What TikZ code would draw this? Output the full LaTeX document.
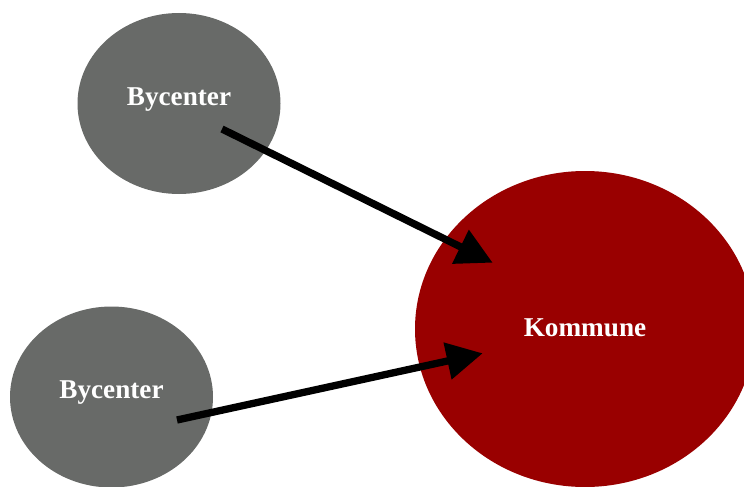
\documentclass[tikz,border=0pt]{standalone}
\usepackage{fontspec}
\setmainfont{Liberation Serif}
\usetikzlibrary{arrows.meta,shapes.geometric}
\definecolor{bygray}{RGB}{104,106,104}
\definecolor{komred}{RGB}{153,0,0}
\newcommand{\basetext}[2]{\smash{\raisebox{#1}{#2}}}
\tikzset{
  place/.style={ellipse, inner sep=0pt, text=white, font=\fontsize{27.2}{30}\selectfont\bfseries},
  bynode/.style={place, fill=bygray, minimum width=203pt, minimum height=181pt},
  komnode/.style={place, fill=komred, minimum width=340pt, minimum height=316pt},
  flow/.style={line width=7.3pt, black, -{Triangle[length=36pt,width=36pt]}}
}
\begin{document}
\begin{tikzpicture}[x=1pt,y=-1pt]
\useasboundingbox (0,0) rectangle (744,487);
\clip (0,0) rectangle (744,487);
\node[bynode] (b1) at (179,103.5) {\basetext{-1.5pt}{Bycenter}};
\node[bynode] (b2) at (111.5,397) {\basetext{-1pt}{Bycenter}};
\node[komnode] (k) at (585,329) {\basetext{-7pt}{Kommune}};
\coordinate (s1) at (222,129);
\coordinate (t1) at (492.7,262.7);
\coordinate (s2) at (177,420);
\coordinate (t2) at (482.7,353.3);
\draw[flow] (s1) -- (t1);
\draw[flow] (s2) -- (t2);
\end{tikzpicture}
\end{document}
